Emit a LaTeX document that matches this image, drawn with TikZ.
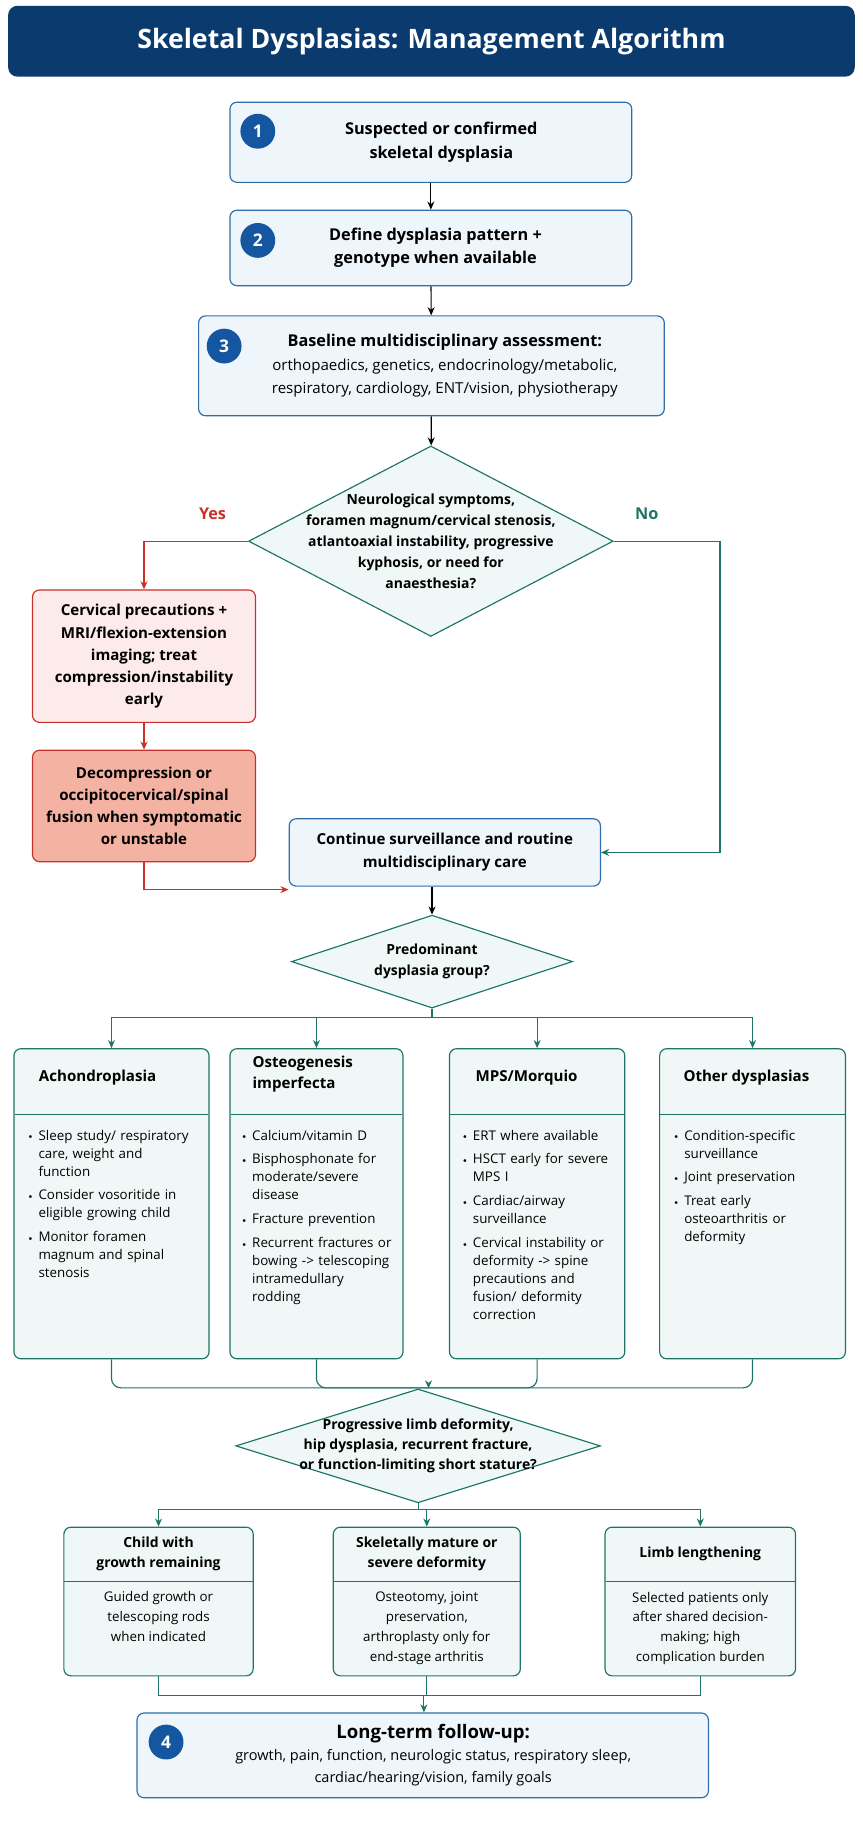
\documentclass[tikz,border=0pt]{standalone}
\usepackage{fontspec}
\setmainfont{Open Sans}
\usepackage{enumitem}
\usetikzlibrary{shapes.geometric,arrows.meta,calc}
\definecolor{navy}{HTML}{0B3A6E}
\definecolor{stepblue}{HTML}{2F6EA8}
\definecolor{stepfill}{HTML}{EEF5FB}
\definecolor{numblue}{HTML}{1556A0}
\definecolor{teal}{HTML}{1E7466}
\definecolor{tealfill}{HTML}{EFF8F6}
\definecolor{redline}{HTML}{C8322B}
\definecolor{pinkfill}{HTML}{FCEBEA}
\definecolor{salmon}{HTML}{F4B2A3}
\newcommand{\bulletlist}[1]{\begin{itemize}[leftmargin=11pt,itemsep=5pt,topsep=0pt,parsep=0pt,label=\raisebox{1pt}{\tiny$\bullet$}]#1\end{itemize}}
\begin{document}
\begin{tikzpicture}[x=1pt,y=-1pt,
  stepbox/.style={draw=stepblue,fill=stepfill,rounded corners=6pt,line width=1pt},
  redbox/.style={draw=redline,fill=pinkfill,rounded corners=6pt,line width=1pt},
  groupbox/.style={draw=teal,fill=tealfill,rounded corners=6pt,line width=1pt},
  decision/.style={diamond,draw=teal,fill=tealfill,line width=1pt,inner sep=0pt},
  num/.style={circle,fill=numblue,text=white,font=\bfseries\fontsize{15}{15}\selectfont,minimum size=30pt,inner sep=0pt},
  txt/.style={align=center,font=\bfseries\fontsize{14}{20}\selectfont},
  small/.style={align=center,font=\bfseries\fontsize{12}{18}\selectfont},
  head/.style={font=\bfseries\fontsize{13}{18}\selectfont,align=left,anchor=north west},
  body/.style={font=\fontsize{11.5}{15.5}\selectfont,text width=#1,anchor=north west,inner sep=0pt},
  flow/.style={line width=1pt,-{Stealth[length=7pt,width=6pt]}},
  link/.style={line width=1pt},
]
\useasboundingbox (0,0) rectangle (743,1568);
% title
\node (title) [fill=navy,rounded corners=8pt,minimum width=729pt,minimum height=61pt,text=white,
  font=\bfseries\fontsize{23}{28}\selectfont] at (371.5,35.5) {Skeletal Dysplasias: Management Algorithm};
% steps
\node (s1) [stepbox,minimum width=346pt,minimum height=69pt] at (371,122.5) {};
\node [txt] at (380,122.5) {Suspected or confirmed\\skeletal dysplasia};
\node [num] at (222,113) {1};
\node (s2) [stepbox,minimum width=346pt,minimum height=65pt] at (371,213.5) {};
\node [txt] at (375,213.5) {Define dysplasia pattern +\\genotype when available};
\node [num] at (222,207) {2};
\node (s3) [stepbox,minimum width=401pt,minimum height=86pt] at (371.5,315) {};
\node [align=center,font=\fontsize{13}{20}\selectfont] at (383,315)
  {{\bfseries\fontsize{14}{20}\selectfont Baseline multidisciplinary assessment:}\\orthopaedics, genetics, endocrinology/metabolic,\\respiratory, cardiology, ENT/vision, physiotherapy};
\node [num] at (193,298) {3};
% first decision
\node (q1) [decision,minimum width=314pt,minimum height=164pt] at (371,466) {};
\node [small] at (371,466) {Neurological symptoms,\\foramen magnum/cervical stenosis,\\atlantoaxial instability, progressive\\kyphosis, or need for\\anaesthesia?};
\node [text=redline,font=\bfseries\fontsize{14}{16}\selectfont] at (183,442) {Yes};
\node [text=teal,font=\bfseries\fontsize{14}{16}\selectfont] at (557,442) {No};
\node (rb1) [redbox,minimum width=192pt,minimum height=114pt] at (124,565) {};
\node [small,font=\bfseries\fontsize{13}{19}\selectfont] at (124,565) {Cervical precautions +\\MRI/flexion-extension\\imaging; treat\\compression/instability\\early};
\node (rb2) [redbox,fill=salmon,minimum width=192pt,minimum height=96pt] at (124,694) {};
\node [small,font=\bfseries\fontsize{13}{19}\selectfont] at (124,694) {Decompression or\\occipitocervical/spinal\\fusion when symptomatic\\or unstable};
\node (cont) [stepbox,minimum width=268pt,minimum height=58pt] at (383,734) {};
\node [txt,font=\bfseries\fontsize{13}{20}\selectfont] at (383,734) {Continue surveillance and routine\\multidisciplinary care};
\coordinate (noc) at (620,466);
\coordinate (yesc) at (124,766);
\draw [flow] (s1) -- (s2);
\draw [flow] (s2) -- (s3);
\draw [flow] (s3) -- (q1);
\draw [flow,redline] (q1.west) -| (rb1.north);
\draw [flow,redline] (rb1) -- (rb2);
\draw [flow,redline] (rb2.south) -- (yesc) -- (yesc -| cont.west);
\draw [flow,teal] (q1.east) -- (noc) |- (cont.east);
% second decision
\node (q2) [decision,minimum width=242pt,minimum height=80pt] at (372,828) {};
\node [small] at (372,828) {Predominant\\dysplasia group?};
\draw [flow] (q2.north |- cont.south) -- (q2.north);
\node (ga) [groupbox,minimum width=168pt,minimum height=267pt] at (96,1036.5) {};
\node (gb) [groupbox,minimum width=149pt,minimum height=267pt] at (272.5,1036.5) {};
\node (gc) [groupbox,minimum width=151pt,minimum height=267pt] at (462.5,1036.5) {};
\node (gd) [groupbox,minimum width=160pt,minimum height=267pt] at (648,1036.5) {};
\foreach \g in {ga,gb,gc,gd}
  \draw [teal,line width=0.8pt] ([xshift=1pt]\g.west |- 0,960) -- ([xshift=-1pt]\g.east |- 0,960);
\node [head] at (30,918) {Achondroplasia};
\node [head] at (214,906) {Osteogenesis\\imperfecta};
\node [head] at (406,918) {MPS/Morquio};
\node [head] at (585,918) {Other dysplasias};
\node [body=146pt] at (22,966) {\bulletlist{\item Sleep study/ respiratory care, weight and function \item Consider vosoritide in eligible growing child \item Monitor foramen magnum and spinal stenosis}};
\node [body=132pt] at (206,966) {\bulletlist{\item Calcium/vitamin D \item Bisphosphonate for moderate/severe disease \item Fracture prevention \item Recurrent fractures or bowing -> telescoping intramedullary rodding}};
\node [body=138pt] at (396,966) {\bulletlist{\item ERT where available \item HSCT early for severe MPS I \item Cardiac/airway surveillance \item Cervical instability or deformity -> spine precautions and fusion/ deformity correction}};
\node [body=140pt] at (578,966) {\bulletlist{\item Condition-specific surveillance \item Joint preservation \item Treat early osteoarthritis or deformity}};
\coordinate (bra) at (372,876);
\draw [link,teal] (q2.south) -- (bra);
\foreach \g in {ga,gb,gc,gd}
  \draw [flow,teal] (bra) -| (\g.north);
% third decision
\node (q3) [decision,minimum width=314pt,minimum height=98pt] at (360,1245) {};
\node [small,font=\bfseries\fontsize{12}{17}\selectfont] at (360,1245) {Progressive limb deformity,\\hip dysplasia, recurrent fracture,\\or function-limiting short stature?};
\coordinate (mrg) at (369,1195);
\foreach \g in {ga,gb,gc,gd}
  \draw [link,teal,rounded corners=8pt] (\g.south) |- (mrg);
\draw [flow,teal] (mrg) -- (mrg |- q3.north);
\node (ea) [groupbox,minimum width=163pt,minimum height=128pt] at (136.5,1379) {};
\node (eb) [groupbox,minimum width=161pt,minimum height=128pt] at (367.5,1379) {};
\node (ec) [groupbox,minimum width=164pt,minimum height=128pt] at (603,1379) {};
\foreach \g in {ea,eb,ec}
  \draw [teal,line width=0.8pt] ([xshift=1pt]\g.west |- 0,1362) -- ([xshift=-1pt]\g.east |- 0,1362);
\node [small] at (136.5,1338) {Child with\\growth remaining};
\node [small] at (367.5,1338) {Skeletally mature or\\severe deformity};
\node [small] at (603,1338) {Limb lengthening};
\node [align=center,font=\fontsize{11.5}{17}\selectfont] at (136.5,1392) {Guided growth or\\telescoping rods\\when indicated};
\node [align=center,font=\fontsize{11.5}{17}\selectfont] at (367.5,1402) {Osteotomy, joint\\preservation,\\arthroplasty only for\\end-stage arthritis};
\node [align=center,font=\fontsize{11.5}{17}\selectfont] at (603,1402) {Selected patients only\\after shared decision-\\making; high\\complication burden};
\coordinate (bra2) at (360,1300);
\draw [link,teal] (q3.south) -- (bra2);
\foreach \g in {ea,eb,ec}
  \draw [flow,teal] (bra2) -| (\g.north);
% follow-up
\node (s4) [stepbox,minimum width=492pt,minimum height=73pt] at (364,1511.5) {};
\node [num] at (143,1500) {4};
\node [align=center,font=\fontsize{12.5}{19}\selectfont] at (373,1511.5)
  {{\bfseries\fontsize{16}{20}\selectfont Long-term follow-up:}\\growth, pain, function, neurologic status, respiratory sleep,\\cardiac/hearing/vision, family goals};
\coordinate (mrg2) at (365,1460);
\foreach \g in {ea,eb,ec}
  \draw [link,teal] (\g.south) |- (mrg2);
\draw [flow,teal] (mrg2) -- (mrg2 |- s4.north);
\end{tikzpicture}
\end{document}
